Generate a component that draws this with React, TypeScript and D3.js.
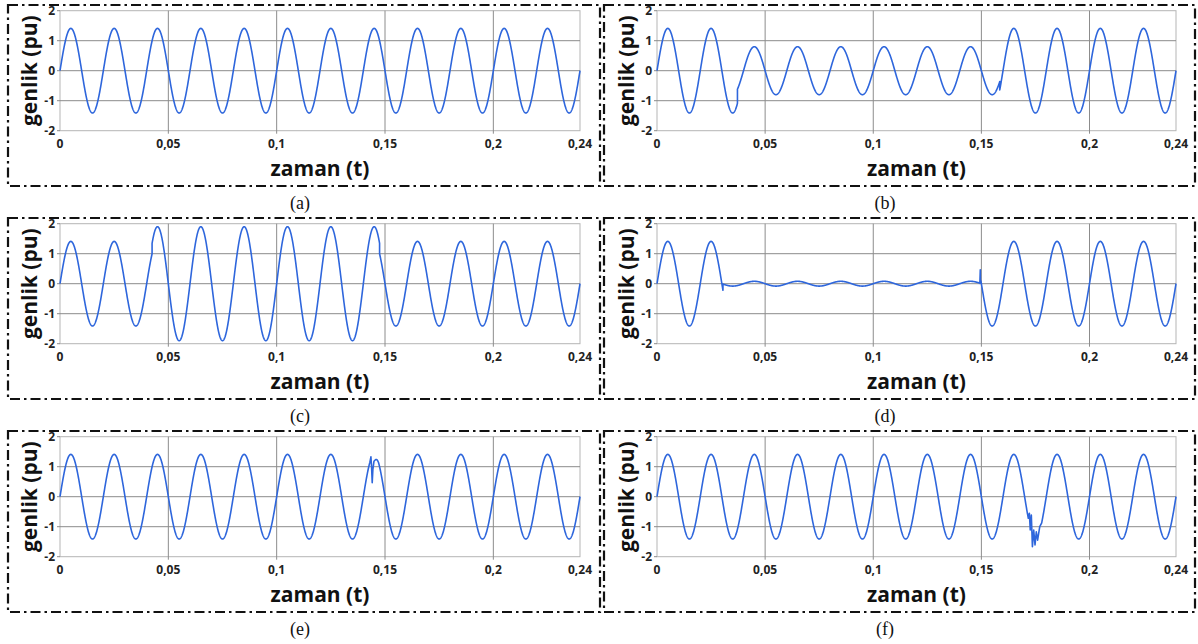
import React from "react";
import * as d3 from "d3";

// ---------- data ----------
const TIME_DOMAIN: [number, number] = [0, 0.24];
const AMP_DOMAIN: [number, number] = [-2, 2];
const TIME_TICKS = [0, 0.05, 0.1, 0.15, 0.2, 0.24];
const TIME_TICK_LABELS = ["0", "0,05", "0,1", "0,15", "0,2", "0,24"];
const AMP_TICKS = [-2, -1, 0, 1, 2];
const AMP_GRID = [-1, 0, 1];
const TIME_GRID = [0.05, 0.1, 0.15, 0.2];
const FUNDAMENTAL_HZ = 50;
const SAMPLE_STEP = 0.0001;

const PANEL_LABELS = ["(a)", "(b)", "(c)", "(d)", "(e)", "(f)"];
const X_TITLE = "zaman (t)";
const Y_TITLE = "genlik (pu)";

// segments of the waveform: [from t, to t, peak amplitude (pu)]
const SEGMENTS_A = [[0, 0.24, 1.41]];
const SEGMENTS_B = [[0, 0.0372, 1.41], [0.0372, 0.1585, 0.8], [0.1585, 0.24, 1.41]];
const SEGMENTS_C = [[0, 0.0425, 1.41], [0.0425, 0.1475, 1.9], [0.1475, 0.24, 1.41]];
const SEGMENTS_D = [[0, 0.0305, 1.41], [0.0305, 0.1496, 0.08], [0.1496, 0.24, 1.41]];
const SEGMENTS_E = [[0, 0.24, 1.41]];
const SEGMENTS_F = [[0, 0.24, 1.41]];

// transient points: [t, amplitude]
const TRANSIENT_A: number[][] = [];
const TRANSIENT_B: number[][] = [];
const TRANSIENT_C: number[][] = [];
const TRANSIENT_D = [[0.1493, 0.01], [0.1495, 0.46], [0.14955, 0.12], [0.1498, 0.08]];
const TRANSIENT_E = [
  [0.1431, 1.18], [0.1435, 1.33], [0.1438, 1.0], [0.1441, 0.47], [0.1444, 0.9],
  [0.1449, 1.18], [0.1457, 1.24], [0.1462, 1.24], [0.1466, 1.2], [0.147, 1.14],
];
const TRANSIENT_F = [
  [0.1717, -0.72], [0.1722, -0.55], [0.1726, -1.11], [0.1731, -0.61], [0.1736, -1.67],
  [0.1742, -1.11], [0.1748, -1.61], [0.1754, -1.17], [0.176, -1.45], [0.177, -1.0],
  [0.1779, -0.87],
];

const ALL_SEGMENTS = [SEGMENTS_A, SEGMENTS_B, SEGMENTS_C, SEGMENTS_D, SEGMENTS_E, SEGMENTS_F];
const ALL_TRANSIENTS = [TRANSIENT_A, TRANSIENT_B, TRANSIENT_C, TRANSIENT_D, TRANSIENT_E, TRANSIENT_F];

// ---------- layout ----------
const W = 1198;
const H = 644;
const COLS = [
  { bx: 8, bw: 592, px: 60, pw: 520, capX: 300 },
  { bx: 604, bw: 591, px: 657, pw: 519, capX: 885 },
];
const ROW_STEP = 213;
const BORDER_Y = 5;
const BORDER_H = 181;
const PLOT_Y = 10.7;
const PLOT_H = 120;

const LINE_COLOR = "#2e66dc";
const FONT = "'Open Sans', 'Noto Sans', 'DejaVu Sans', sans-serif";

function buildWave(segs: number[][], transient: number[][]): [number, number][] {
  const pts: [number, number][] = [];
  segs.forEach(([from, to, amp]) => {
    const ts = d3.range(from, to, SAMPLE_STEP);
    ts.push(to);
    ts.forEach((t) => pts.push([t, amp * Math.sin(2 * Math.PI * FUNDAMENTAL_HZ * t)]));
  });
  if (!transient.length) return pts;
  const t0 = transient[0][0];
  const t1 = transient[transient.length - 1][0];
  const before = pts.filter((p) => p[0] < t0);
  const after = pts.filter((p) => p[0] > t1);
  return [...before, ...(transient as [number, number][]), ...after];
}

function Panel({ idx }: { idx: number }) {
  const col = COLS[idx % 2];
  const row = Math.floor(idx / 2);
  const oy = row * ROW_STEP;
  const top = PLOT_Y + oy;
  const x = d3.scaleLinear().domain(TIME_DOMAIN).range([col.px, col.px + col.pw]);
  const y = d3.scaleLinear().domain(AMP_DOMAIN).range([top + PLOT_H, top]);
  const data = buildWave(ALL_SEGMENTS[idx], ALL_TRANSIENTS[idx]);
  const line = d3
    .line<[number, number]>()
    .x((d) => x(d[0]))
    .y((d) => y(d[1]));
  const clipId = `clip-${idx}`;
  return (
    <g>
      <defs>
        <clipPath id={clipId}>
          <rect x={col.px - 1} y={top - 1} width={col.pw + 2} height={PLOT_H + 2} />
        </clipPath>
      </defs>
      <rect
        x={col.bx}
        y={BORDER_Y + oy}
        width={col.bw}
        height={BORDER_H}
        fill="none"
        stroke="#111"
        strokeWidth={2.2}
        strokeDasharray="10 4 2.5 4"
      />
      <rect x={col.px} y={top} width={col.pw} height={PLOT_H} fill="#fff" stroke="#b5b5b5" strokeWidth={1} />
      {AMP_GRID.map((v) => (
        <line key={"h" + v} x1={col.px} x2={col.px + col.pw} y1={y(v)} y2={y(v)} stroke="#8c8c8c" strokeWidth={1} />
      ))}
      {TIME_GRID.map((t) => (
        <line key={"v" + t} x1={x(t)} x2={x(t)} y1={top} y2={top + PLOT_H + 3} stroke="#8c8c8c" strokeWidth={1} />
      ))}
      {AMP_TICKS.map((v) => (
        <line key={"yt" + v} x1={col.px - 3} x2={col.px} y1={y(v)} y2={y(v)} stroke="#8c8c8c" strokeWidth={1} />
      ))}
      <path d={line(data) || ""} fill="none" stroke={LINE_COLOR} strokeWidth={1.6} strokeLinejoin="round" clipPath={`url(#${clipId})`} />
      {AMP_TICKS.map((v) => (
        <text
          key={"yl" + v}
          x={col.px - 5}
          y={y(v)}
          dy="0.36em"
          textAnchor="end"
          fontFamily={FONT}
          fontWeight={700}
          fontSize={12}
          fill="#222"
        >
          {v}
        </text>
      ))}
      {TIME_TICKS.map((t, i) => (
        <text
          key={"xl" + t}
          x={x(t)}
          y={top + PLOT_H + 17.5}
          textAnchor="middle"
          fontFamily={FONT}
          fontWeight={700}
          fontSize={12}
          fill="#222"
        >
          {TIME_TICK_LABELS[i]}
        </text>
      ))}
      <text
        x={col.px + col.pw / 2}
        y={top + PLOT_H + 45.5}
        textAnchor="middle"
        fontFamily={FONT}
        fontWeight={700}
        fontSize={21}
        fill="#111"
      >
        {X_TITLE}
      </text>
      <text
        transform={`translate(${col.px - 30},${top + PLOT_H / 2}) rotate(-90)`}
        textAnchor="middle"
        dy="0.35em"
        fontFamily={FONT}
        fontWeight={700}
        fontSize={21}
        fill="#111"
      >
        {Y_TITLE}
      </text>
      <text
        x={col.capX}
        y={209 + oy}
        textAnchor="middle"
        fontFamily="'Liberation Serif', 'Times New Roman', serif"
        fontSize={18}
        fill="#111"
      >
        {PANEL_LABELS[idx]}
      </text>
    </g>
  );
}

export default function App() {
  return (
    <svg
      width={W}
      height={H}
      viewBox={`0 0 ${W} ${H}`}
      style={{ position: "absolute", left: 0, top: 0, background: "#fff" }}
    >
      <rect x={0} y={0} width={W} height={H} fill="#fff" />
      {PANEL_LABELS.map((_, i) => (
        <Panel key={i} idx={i} />
      ))}
    </svg>
  );
}
